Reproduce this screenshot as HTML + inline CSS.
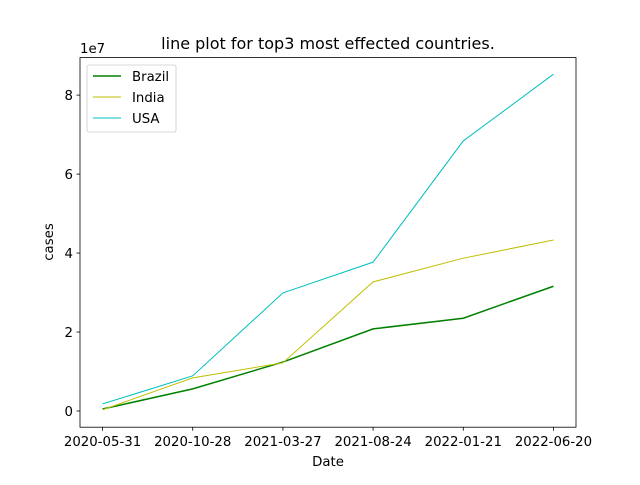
<!DOCTYPE html>
<html><head><meta charset="utf-8"><style>body{margin:0;background:#fff}svg{font-family:"DejaVu Sans","Liberation Sans",sans-serif}</style></head>
<body>
<svg id="chart" width="640" height="480" xmlns="http://www.w3.org/2000/svg">
<rect width="640" height="480" fill="#fff"/>
<g id="plot"></g>
</svg>
<script>
const categories=["2020-05-31","2020-10-28","2021-03-27","2021-08-24","2022-01-21","2022-06-20"];
const brazil=[0.05,0.56,1.24,2.08,2.35,3.16];
const india=[0.03,0.84,1.22,3.27,3.87,4.33];
const usa=[0.18,0.89,2.99,3.77,6.84,8.53];
const yTicks=[0,2,4,6,8];
const L=80,R=576,T=57.6,B=427.2;
const xmin=-0.25,xmax=5.25,ymin=-0.41,ymax=8.95;
const X=i=>L+(i-xmin)/(xmax-xmin)*(R-L);
const Y=v=>B-(v-ymin)/(ymax-ymin)*(B-T);
const g=document.getElementById('plot');
const NS="http://www.w3.org/2000/svg";
function mk(tag,attrs,parent){const e=document.createElementNS(NS,tag);for(const k in attrs)e.setAttribute(k,attrs[k]);(parent||g).appendChild(e);return e;}
const series=[["brazil",brazil,"#008000",1.5],["india",india,"#bfbf00",1],["usa",usa,"#00bfbf",1]];
series.forEach(([n,d,c,w])=>{
 const p=mk('polyline',{points:d.map((v,i)=>X(i)+','+Y(v)).join(' '),fill:'none',stroke:c,'stroke-width':w});
 
 
});
const fr=mk('rect',{x:L,y:T,width:R-L,height:B-T,fill:'none',stroke:'#000','stroke-width':0.8});


categories.forEach((c,i)=>{
 mk('line',{x1:X(i),x2:X(i),y1:B,y2:B+3.5,stroke:'#000','stroke-width':0.8});
 const t=mk('text',{x:X(i),y:B+19,'text-anchor':'middle','font-size':13.3});
 t.textContent=c;
 
 
});
yTicks.forEach(v=>{
 mk('line',{x1:L-3.5,x2:L,y1:Y(v),y2:Y(v),stroke:'#000','stroke-width':0.8});
 const t=mk('text',{x:L-7,y:Y(v)+5,'text-anchor':'end','font-size':13.3});
 t.textContent=v;
 
 
});
function txt(s,a,name){const t=mk('text',a);t.textContent=s;return t;}
txt('1e7',{x:80,y:53,'font-size':13.3},'y-offset-label');
txt('line plot for top3 most effected countries.',{x:328,y:49,'text-anchor':'middle','font-size':16},'chart-title');
txt('Date',{x:328,y:466,'text-anchor':'middle','font-size':13.3},'x-axis-title');
txt('cases',{x:53,y:242,'text-anchor':'middle','font-size':13.3,transform:'rotate(-90 53 242)'},'y-axis-title');
const lg=mk('g',{});


mk('rect',{x:87,y:65,width:89,height:67,rx:2,fill:'#fff',stroke:'#ccc','stroke-width':0.8},lg);
series.forEach(([n,d,c,w],k)=>{
 const y=76+k*21;
 mk('line',{x1:93,x2:121,y1:y,y2:y,stroke:c,'stroke-width':w},lg);
 const t=mk('text',{x:132,y:y+5,'font-size':13.3},lg);
 t.textContent=['Brazil','India','USA'][k];
 
 
});
</script>
</body></html>
